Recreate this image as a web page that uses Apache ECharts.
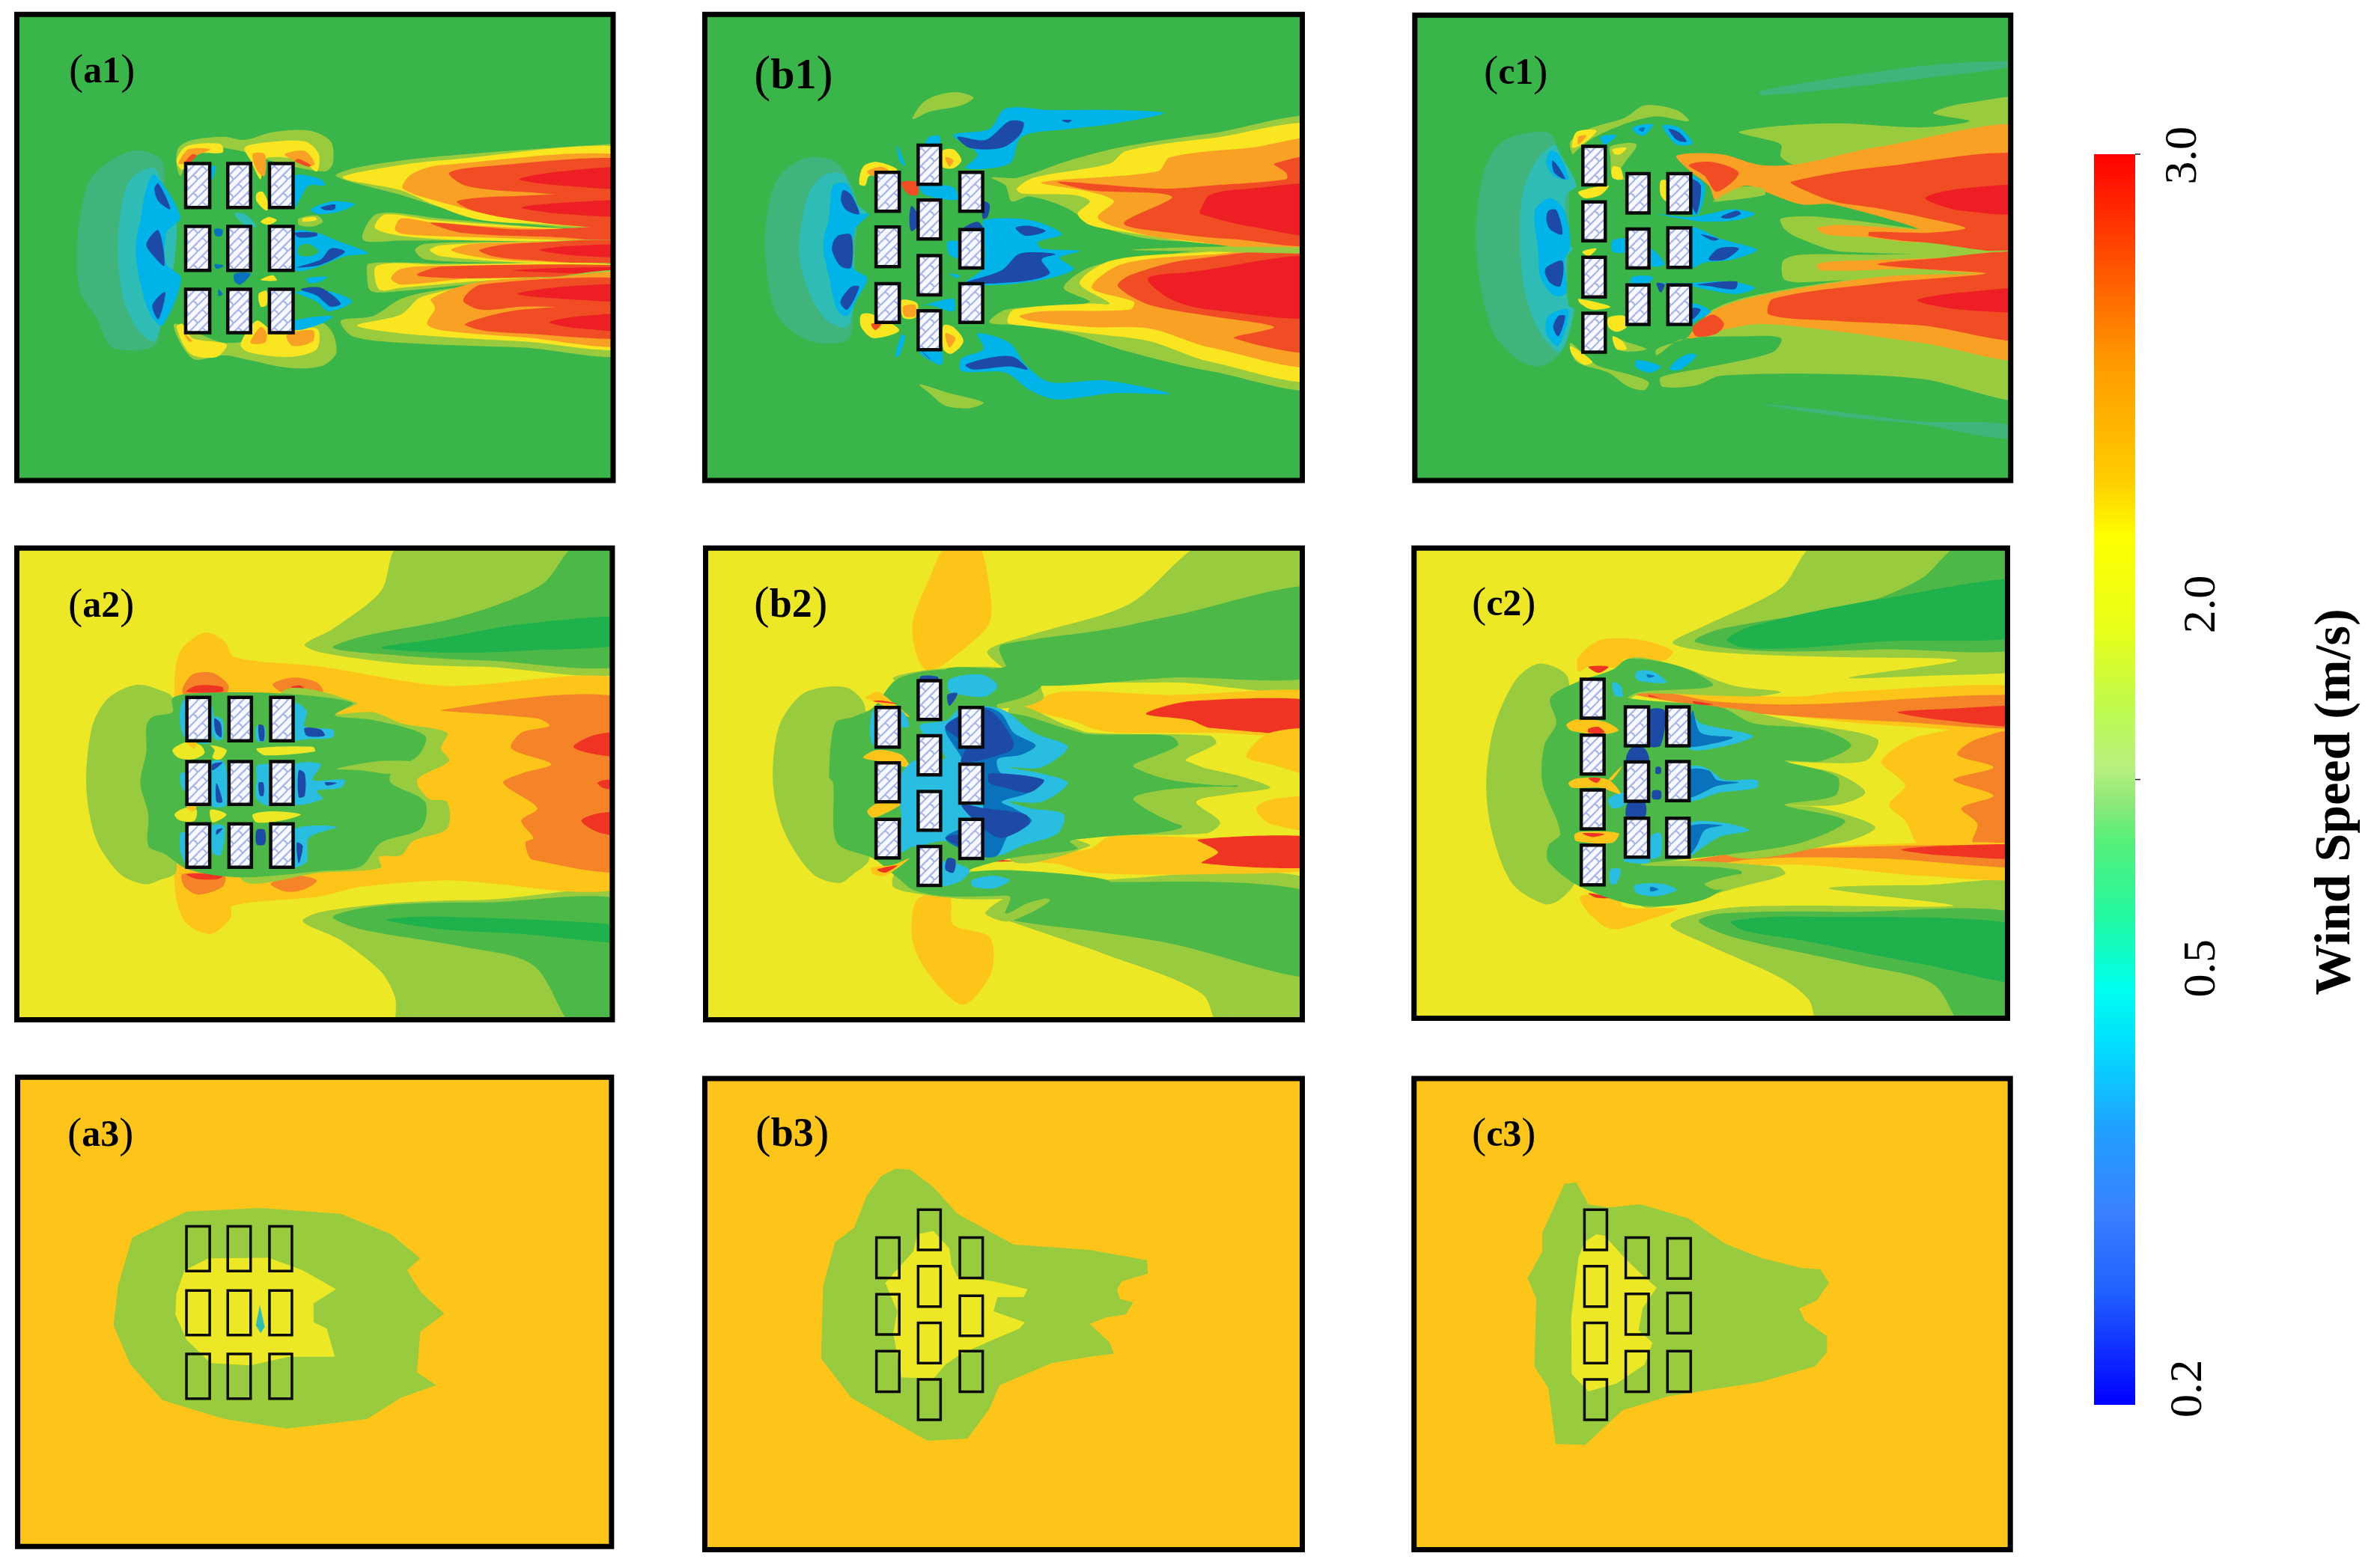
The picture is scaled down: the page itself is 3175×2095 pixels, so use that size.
<!DOCTYPE html>
<html lang="en">
<head>
<meta charset="UTF-8">
<title>Wind Speed</title>
<script src="https://cdn.jsdelivr.net/npm/echarts@6/dist/echarts.min.js"></script>
<style>
html,body{margin:0;padding:0;background:#fff}
#chart{width:3175px;height:2095px}
</style>
</head>
<body>
<div id="chart"></div>
<script>
// contour bands, outlines in panel units
const a1Regions = [
['S',[345,478,400,505,410,560,400,1000,385,1100,280,1105,240,1010,200,930,192,830,198,700,225,570,290,500]],
['T',[385,535,415,640,440,700,430,880,410,990,385,1085,345,1050,310,960,295,830,300,680,325,570]],
['C',[385,555,450,690,415,740,415,840,452,885,405,1035,375,1000,350,900,338,790,350,700,365,600]],
['D',[395,583,425,665,395,640,385,600]],['D',[395,732,410,845,380,810,365,775]],['D',[412,928,395,1015,380,970]],
['L',[440,520,445,470,480,445,560,435,610,445,680,420,770,415,825,450,830,520,810,545,700,520,600,480,520,470,470,500,450,560]],
['Y',[440,510,465,465,550,458,555,485,490,490,455,540]],['Y',[610,470,650,455,760,450,795,490,790,545,750,510,660,505,650,570,625,510]],
['A',[445,520,470,475,525,475,490,495,460,520]],['A',[630,490,660,490,660,560,640,540]],['A',[710,490,760,480,785,520,770,530,725,505]],['E',[745,505,775,525,770,530,735,512]],['E',[462,515,480,490,490,495,470,520]],
['L',[435,1030,480,1140,560,1130,620,1145,720,1170,800,1165,838,1125,830,1060,800,1025,700,1060,560,1090]],
['Y',[440,1040,475,1125,540,1135,565,1095,480,1075,455,1030]],['Y',[600,1095,640,1020,680,1050,790,1045,790,1110,720,1135,620,1120]],
['A',[625,1090,650,1040,665,1060,660,1090]],['A',[715,1065,780,1050,780,1085,730,1100]],['A',[460,1060,470,1085,480,1085]],
['C',[735,560,800,570,810,590,770,590,745,640,735,660]],['C',[775,665,830,640,885,650,840,675,790,680]],['D',[800,660,835,650,835,665,810,668]],
['C',[735,735,790,740,840,765,918,805,860,815,790,850,735,860,735,800]],['G',[745,785,770,775,795,800,770,815,745,810]],['D',[735,740,790,740,790,750,745,755]],['D',[740,850,800,825,825,790,860,800,830,825,790,845]],
['C',[735,930,790,920,845,935,878,960,820,990,790,960,745,935]],['C',[735,1020,830,1005,800,1030,735,1050]],['D',[750,920,800,915,850,965,825,975,790,940]],
['L',[745,695,790,685,805,705,780,720,745,715]],['Y',[755,695,785,690,790,700,755,705]],
['Y',[655,610,670,650,665,670,640,640,640,615]],['Y',[650,705,670,690,690,700,670,715]],['Y',[650,890,680,875,690,892]],['Y',[645,935,665,925,665,970,650,975]],
['C',[765,885,815,880,800,895,770,900]],['M',[585,870,625,870,600,905,585,895]],['M',[535,728,555,730,552,750,538,750]],['M',[535,840,558,845,540,855]],['M',[545,920,555,935,545,942]],['T',[585,680,610,680,640,720,610,715]],['C',[523,530,538,530,530,570,523,570]],
// wake, top to bottom
['L',[838,560,900,530,1100,497,1522,458,1600,458,1600,705,1250,705,1100,660,1000,620]],
['Y',[855,565,950,535,1100,510,1600,478,1600,700,1300,710,1180,695,1080,650,1000,605]],
['A',[1005,600,1025,555,1100,525,1600,505,1600,720,1430,715,1250,690,1120,650]],
['E',[1120,550,1200,530,1600,510,1600,620,1300,610,1160,590]],['E',[1140,640,1250,625,1600,625,1600,720,1430,718,1250,690,1170,665]],
['R',[1295,570,1400,545,1600,535,1600,595,1400,590]],['R',[1300,660,1400,645,1600,640,1600,685,1400,680]],
['L',[905,762,940,680,1100,695,1250,712,1600,750,1600,770,1200,765,1000,765]],
['Y',[935,725,960,682,1080,700,1300,720,1600,740,1600,765,1200,765,1000,750]],
['A',[985,730,1000,695,1080,708,1300,725,1600,740,1600,765,1200,755,1010,745]],
['E',[1075,708,1300,730,1600,722,1600,770,1400,755,1150,740]],
['L',[1035,795,1060,775,1300,768,1600,770,1600,830,1300,835,1060,825]],
['Y',[1072,795,1100,780,1300,770,1600,772,1600,830,1320,835,1100,815]],
['A',[1125,795,1180,775,1450,770,1600,770,1600,830,1300,830,1180,815]],
['E',[1195,795,1280,775,1600,770,1600,835,1300,825,1230,815]],
['R',[1345,795,1430,782,1600,780,1600,815,1430,812]],
['L',[915,870,920,838,1100,838,1600,840,1600,870,1380,880,1200,900,1000,925,925,925]],
['Y',[940,845,1100,842,1500,838,1600,870,1380,878,1180,895,1000,915,945,920]],
['A',[975,885,1000,855,1100,845,1600,845,1600,860,1370,880,1180,885,1000,905]],
['E',[1040,875,1100,848,1600,845,1600,870,1370,880,1150,885]],
['R',[1280,860,1400,852,1600,852,1600,868,1400,868]],
['L',[850,1020,930,1005,1000,950,1080,925,1350,885,1600,875,1600,1120,1300,1105,1000,1090,880,1070]],
['Y',[890,1035,1000,1000,1050,945,1200,905,1380,885,1600,878,1600,1098,1300,1085,1000,1060]],
['A',[1065,1030,1085,980,1075,950,1180,900,1370,882,1600,880,1600,1090,1300,1072,1100,1050]],
['E',[1155,955,1200,905,1600,890,1600,970,1300,975,1200,985]],['E',[1160,1030,1300,985,1600,980,1600,1070,1300,1060,1200,1050]],
['R',[1290,935,1400,912,1600,908,1600,955,1400,950]],['R',[1370,1025,1450,1005,1600,1002,1600,1050,1450,1045]]
];
const b1Regions = [
['S',[290,503,360,510,395,560,420,650,415,800,410,950,400,1075,330,1092,265,1060,215,990,192,830,195,680,225,560]],
['T',[340,555,385,555,420,650,445,680,415,720,410,800,415,860,445,885,415,960,395,1040,345,1020,300,930,275,810,285,680,305,600]],
['C',[360,590,395,585,430,680,450,680,415,730,410,850,445,885,420,950,395,1005,370,985,350,880,335,780,350,690]],
['D',[385,605,405,620,425,680,395,670,380,640]],['D',[375,748,405,748,405,850,380,848,358,800,360,770]],['D',[405,912,425,912,395,985,378,960]],
['C',[790,345,900,350,1060,350,1185,360,1050,395,950,410,830,435,800,520,690,535,720,490,660,430,750,410]],
['D',[670,435,740,445,800,385,835,390,825,430,780,470,700,470]],['D',[930,382,955,382,945,390]],
['C',[720,1060,800,1090,840,1160,900,1215,1040,1210,1200,1252,1060,1250,915,1270,850,1240,790,1185,680,1180,680,1140,735,1110]],
['D',[690,1160,760,1135,810,1135,845,1175,800,1165,710,1175]],
['L',[558,378,590,320,660,293,710,310,680,335,600,355]],['L',[575,1222,650,1250,735,1280,700,1298,640,1290,600,1250]],
['C',[735,700,820,695,880,710,930,745,870,770,880,790,975,798,925,820,960,855,900,885,790,905,690,900,735,850,735,730]],
['D',[685,725,720,705,735,730,700,735]],['D',[815,725,850,718,890,735,840,750]],['D',[820,810,850,802,915,808,880,825,900,870,830,895,690,900,780,860]],
['L',[750,1025,790,985,890,975,1000,960,935,915,1000,850,1150,815,1600,795,1600,1225,1300,1180,1100,1120,950,1060,830,1035]],
['Y',[795,1025,810,985,1000,965,1050,965,975,900,1050,830,1250,805,1600,800,1600,1200,1300,1150,1150,1085,1000,1060,830,1035]],
['A',[825,1005,880,990,1100,985,1110,960,1005,915,1080,840,1300,810,1600,805,1600,1155,1300,1105,1150,1045,1000,1040,850,1020]],
['E',[1070,910,1100,875,1250,825,1600,815,1600,1110,1360,1075,1460,1040,1300,1005,1150,970]],
['R',[1145,885,1250,865,1600,820,1600,1000,1300,985,1200,950]],
['L',[755,565,820,565,950,510,1070,470,1300,425,1600,385,1600,780,1300,770,1150,760,1010,715,940,660,850,625,805,640,790,590]],
['Y',[818,600,860,565,1050,520,1090,480,1300,440,1600,408,1600,780,1300,775,1100,740,1000,715,970,680,1000,640,960,620,830,615]],
['A',[880,580,1170,545,1200,500,1400,470,1600,450,1600,775,1200,760,1060,720,1020,690,1060,640,1000,610]],
['E',[1460,520,1600,505,1600,765,1350,760,1200,740,1085,710,1205,625,1000,605,920,578,1180,600,1300,590,1490,570,1490,550]],
['R',[1275,670,1300,620,1400,600,1600,595,1600,745,1400,720,1275,680]],
['L',[1100,795,1300,785,1600,790,1600,805,1300,800]],
['Y',[425,585,435,530,470,515,520,540,450,560,440,590]],['A',[445,545,480,530,500,545,460,560]],['E',[530,580,570,580,570,620,545,615]],
['Y',[632,480,660,475,680,510,660,535,632,530]],['A',[640,500,660,510,650,530]],
['Y',[430,1000,460,1000,525,1050,460,1075,430,1040]],['E',[455,1030,480,1030,465,1050]],
['Y',[530,955,570,965,565,1010,535,1010]],['A',[535,975,565,970,565,1005,538,1005]],
['Y',[635,1035,660,1040,685,1085,655,1125,635,1110]],['A',[640,1060,665,1075,650,1105]],
['C',[520,462,530,490,540,530,525,510]],['C',[515,1135,530,1065,540,1070,525,1130]],['C',[600,435,625,432,625,458,590,460]],
['C',[575,1120,630,1120,630,1160,600,1145]],['D',[580,1115,605,1145,590,1130]],['D',[555,655,570,680,570,720,555,735,550,700]],
['C',[575,590,660,595,670,635,590,620]],['C',[645,770,675,770,675,820,650,810]],['C',[650,870,675,875,670,885]],['C',[575,975,660,950,660,990,600,970]],
['D',[733,640,750,650,745,690,733,695]]
];
const c1Regions = [
['S',[895,290,1100,245,1300,210,1515,195,1515,215,1300,250,1100,280,905,303]],['S',[905,1285,1100,1310,1300,1340,1515,1350,1515,1395,1300,1350,1100,1325]],
['S',[250,455,320,422,375,425,395,480,420,570,420,780,415,960,400,1120,350,1165,290,1140,230,1050,195,860,190,700,210,540]],
['T',[385,460,400,490,440,590,415,620,415,770,430,790,415,820,420,970,435,985,400,1120,355,1070,315,950,300,800,305,620,340,510]],
['C',[375,480,395,490,420,570,385,560,365,520]],['C',[340,660,375,630,410,670,425,780,410,830,415,930,385,940,350,880,345,800,335,700]],['C',[370,1005,420,985,395,1100,365,1060]],
['D',[380,510,395,530,412,570,385,550]],['D',[370,670,390,668,405,745,375,730,365,700]],['D',[365,850,405,830,400,910,375,900,362,870]],['D',[395,1005,412,1005,395,1070,382,1040]],
['L',[845,420,950,400,1100,392,1300,405,1420,385,1330,360,1400,330,1600,318,1600,520,1000,530,950,500,950,460,900,440]],
['L',[780,985,900,935,1200,875,1600,820,1600,1262,1300,1205,1100,1190,800,1195,740,1225,655,1230,650,1200,760,1170,930,1120,950,1075,850,1070,700,1080,640,1130,640,1110,720,1070]],
['A',[720,1075,780,990,900,940,1200,880,1460,870,1600,860,1600,1138,1300,1090,1100,1055,900,1030,800,1050]],
['A',[690,495,800,490,900,525,1000,520,1200,465,1600,412,1600,790,1400,790,1170,745,1050,720,1300,735,1080,650,1000,650,910,610,860,590,790,640,770,590,720,540]],
['L',[780,640,850,595,905,600,910,620,800,640]],
['L',[950,695,1050,690,1300,730,1600,790,1600,805,1100,800,1000,760,960,730]],
['A',[1040,725,1100,715,1300,730,1410,730,1300,770,1170,755,1060,745]],
['E',[975,578,1200,530,1600,505,1600,785,1300,770,1170,750,1170,738,1320,740,1410,725,1300,690,1180,660,1080,640,1000,600]],
['R',[1310,630,1400,600,1600,595,1600,675,1400,670]],
['L',[955,830,1000,810,1200,810,1600,795,1600,810,1300,860,1200,880,1050,895,960,890]],
['A',[1040,840,1100,830,1600,815,1600,830,1460,870,1300,855,1050,860]],
['E',[1190,840,1300,825,1600,820,1600,1075,1300,1035,1080,1020,920,1000,930,950,1200,900,1460,870,1300,855]],
['R',[1290,955,1400,930,1600,920,1600,985,1400,985]],
['E',[720,525,780,515,845,550,790,610,760,560]],['E',[730,1040,780,1000,808,1030,790,1060,740,1070]],
['L',[425,450,470,410,560,375,610,335,690,350,720,385,640,370,570,390,480,440,440,480,430,490]],
['Y',[440,420,490,415,465,450,430,470]],['A',[445,435,465,430,445,460]],
['C',[580,405,630,395,610,430,590,425]],['M',[595,410,610,405,605,420]],['C',[655,400,695,405,730,455,690,460]],['D',[670,410,695,420,715,450,690,445]],['C',[500,435,540,430,510,460]],
['L',[525,465,590,460,550,540,560,570,530,560,525,500]],['Y',[530,475,565,470,550,490,535,490]],['Y',[530,530,550,535,555,570,530,565]],
['Y',[650,575,665,575,665,640,650,620]],['Y',[445,610,520,590,500,620,460,630]],['Y',[455,800,490,790,470,815]],['Y',[445,950,525,975,480,985,450,965]],
['Y',[520,1010,560,1005,565,1040,540,1055,520,1040]],['L',[530,1070,560,1085,615,1110,550,1115]],['Y',[530,1070,555,1085,565,1110,540,1110]],
['L',[425,1090,490,1160,570,1190,620,1215,610,1240,570,1230,520,1185,440,1150]],['Y',[425,1100,480,1150,460,1160,430,1130]],
['C',[590,1145,650,1165,625,1185,590,1170]],['C',[720,1125,740,1130,700,1175,672,1175,690,1145]],
['C',[725,560,760,590,745,680,725,680]],['D',[725,570,750,590,740,680,725,640]],
['C',[640,680,720,690,770,680,830,665,885,680,840,700,760,705,700,695]],['D',[800,690,840,670,850,680,820,695]],
['C',[725,725,800,760,830,770,890,795,830,825,760,835,725,850]],['D',[750,745,795,760,780,765]],['D',[795,790,845,790,810,825,770,825]],
['C',[530,765,565,760,565,800,530,800]],['C',[625,790,660,840,625,845]],['C',[580,880,630,880,620,900,575,900]],
['C',[640,900,720,900,820,895,885,915,840,935,760,920,725,910]],['D',[640,900,660,905,650,930]],['D',[740,905,840,895,835,920,770,910]],
['C',[725,965,775,990,740,1020,725,1030]],['D',[730,980,750,985,730,1015]]
];
const a2Regions = [
['L',[1000,40,1600,40,1600,430,1200,430,1000,420,800,385,760,360,830,310,950,190]],
['K',[1440,40,1600,40,1600,405,1200,410,950,390,830,370,900,335,1150,270,1350,170]],
['H',[950,370,1100,340,1300,295,1600,275,1600,350,1300,380,1100,385]],
['L',[1000,1600,1600,1600,1600,1170,1200,1172,1000,1180,800,1210,755,1240,850,1300,950,1400,985,1480]],
['K',[1445,1600,1600,1600,1600,1195,1200,1180,950,1190,830,1225,900,1265,1150,1320,1330,1380]],
['H',[965,1235,1100,1225,1600,1260,1600,1310,1300,1280,1100,1265]],
['O',[435,480,450,380,510,322,560,350,585,400,800,430,1100,490,1600,500,1600,1105,1100,1110,900,1130,800,1160,580,1190,575,1230,525,1280,460,1240,435,1120]],
['P',[1100,568,1600,552,1600,1058,1330,1045,1310,990,1330,975,1300,920,1340,880,1255,800,1300,770,1375,740,1275,690,1300,640,1370,618,1340,595]],
['Q',[1430,685,1490,645,1600,645,1600,715,1490,710]],['Q',[1490,800,1510,790,1600,790,1600,820,1510,818]],['Q',[1450,920,1500,895,1600,895,1600,965,1500,960]],
['P',[455,500,480,455,530,450,570,490,560,520,460,520]],['Q',[465,510,490,490,555,495,555,510]],
['P',[680,485,730,465,790,480,805,510,750,520,700,510]],['Q',[725,495,750,490,760,505]],
['P',[455,1090,560,1095,555,1130,495,1155,460,1130]],['Q',[465,1090,558,1092,545,1105,490,1105]],['P',[675,1120,740,1095,790,1110,755,1140,710,1145]],
['L',[215,810,230,620,270,530,340,488,400,505,430,530,440,1080,395,1110,360,1122,300,1090,240,980]],
['L',[700,515,890,545,835,580,930,575,1000,610,1115,640,1100,690,1120,730,1040,790,1070,850,1115,860,1115,945,1030,985,1000,1030,945,1035,950,1070,800,1085,600,1100]],
['K',[365,620,380,590,430,575,430,530,480,515,700,515,880,545,835,585,930,600,1060,650,1045,710,975,770,975,800,1060,860,1050,945,950,990,900,1065,800,1080,600,1100,470,1075,410,1025,370,1000,370,900,350,800,365,700]],
['L',[840,755,950,730,1040,735,975,770,900,760]],
['B',[450,560,465,530,525,540,525,670,465,660,450,620]],['B',[535,590,555,600,555,660,535,660]],['B',[640,620,660,620,660,665,640,665]],['B',[730,545,765,570,760,620,830,630,830,655,770,660,730,660]],
['D',[760,625,800,630,810,650,765,650]],['D',[535,595,550,610,552,655,538,640]],['D',[645,615,658,620,658,665,648,665]],
['B',[525,735,560,735,565,870,525,870]],['B',[640,745,675,745,675,870,640,850,640,780]],['B',[730,745,800,740,780,790,860,790,850,815,790,825,805,850,730,865]],
['D',[745,760,760,770,760,840,745,845]],['D',[810,798,840,800,815,808]],['D',[530,740,555,735,530,760]],['D',[540,800,555,860,540,860]],['D',[645,800,657,800,657,840,648,840]],
['B',[530,935,560,940,550,1030,530,1020]],['D',[540,950,555,945,540,965]],['D',[640,950,660,950,660,995,640,995]],
['B',[730,950,840,940,770,975,765,1050,730,1065]],['D',[740,990,755,1000,745,1055]],['B',[450,960,465,960,465,1060,450,1020]],['B',[450,770,465,770,465,830,452,810]],
['W',[430,695,465,670,500,680,510,705,480,725,445,720]],['W',[525,680,565,695,550,725,530,720,535,695]],['W',[640,690,780,685,785,700,660,712]],
['W',[435,900,460,880,490,885,485,920,450,920]],['W',[525,885,565,900,530,925]],['W',[630,900,680,890,750,900,700,920,640,925]],['O',[465,672,490,672,485,690]],['O',[465,875,490,875,480,892]]
];
const b2Regions = [
['O',[645,40,720,40,750,180,750,290,690,370,600,445,570,400,558,290,600,150]],
['O',[570,1170,650,1160,660,1250,750,1290,755,1400,685,1505,600,1410,558,1300]],
['L',[1295,30,1600,30,1600,480,1200,480,880,490,885,525,790,440,745,380,850,330,1100,230]],
['K',[1600,180,1600,445,1200,465,860,490,800,440,775,380,780,360,1050,310,1200,270]],
['L',[1600,1600,1335,1600,1280,1470,1050,1350,800,1240,740,1215,800,1160,1000,1110,1600,1130]],
['K',[785,1220,830,1160,1050,1115,1600,1165,1600,1415,1200,1310,1000,1270,820,1240]],
['O',[840,555,930,510,1200,520,1600,515,1600,640,1300,640,1070,640,1015,630,950,600,840,565]],
['Q',[1140,580,1250,540,1600,545,1600,637,1300,625,1250,600]],['Q',[725,540,840,558,790,552]],
['O',[1390,715,1450,640,1600,640,1600,780,1450,740]],['O',[1415,880,1460,850,1600,850,1600,950,1450,930]],
['O',[810,1040,1000,1010,1050,970,1300,975,1600,975,1600,1065,1300,1090,1000,1085,930,1060]],
['Q',[1270,980,1600,978,1600,1062,1280,1055,1320,1020]],['Q',[720,1040,810,1048,760,1050]],
['L',[210,800,225,620,280,520,340,495,400,500,440,560,450,1040,410,1090,375,1118,310,1090,240,960]],
['L',[510,470,600,440,740,430,795,440,870,500,885,530,840,555,700,560]],
['L',[515,1090,700,1080,850,1100,830,1155,770,1185,740,1215,800,1240,900,1170,700,1170,560,1150,510,1130]],
['L',[950,620,1000,640,1300,650,1315,675,1240,730,1380,780,1450,815,1350,835,1265,860,1325,925,1290,960,1000,965,945,968,1000,1000,800,1040,800,560]],
['K',[365,610,410,590,460,560,520,470,640,440,780,470,770,560,850,590,950,630,1000,645,1200,650,1220,680,1110,750,1370,810,1110,850,1230,940,1000,975,950,985,970,1010,800,1040,690,1085,780,1110,830,1150,640,1160,560,1140,520,1100,460,1040,370,990,360,800,350,780]],
['K',[640,440,790,430,780,370,870,370,880,490,800,540,700,550]],
['K',[640,1155,800,1160,790,1215,850,1180,1050,1115,900,1085,700,1085]],
['L',[1110,745,1180,715,1240,730,1370,805,1200,790]],['L',[1110,850,1200,820,1370,815,1265,860,1320,920,1230,935]],
['O',[440,530,470,510,510,545,550,590,470,545,450,535]],['O',[435,720,470,695,530,710,550,750,500,735]],['O',[445,890,470,865,530,865,500,890,460,910]],['O',[455,1070,510,1060,550,1040,490,1095,460,1090]],
['Q',[460,540,520,548,480,538]],['Q',[470,1075,520,1062,490,1085]],
['B',[575,620,645,600,680,560,780,565,860,640,945,685,880,750,800,750,880,770,945,800,880,860,800,860,850,880,935,900,920,960,830,1000,770,1030,640,985,540,1000,530,900,525,790,560,730,640,720]],
['M',[735,560,780,580,810,640,865,680,830,710,770,725,780,770,885,790,850,830,780,860,810,880,855,920,800,960,770,1030,735,1035,640,975,735,900,680,720,640,620]],
['D',[735,565,770,590,810,670,800,700,680,735,690,680,640,620]],['D',[750,770,885,790,850,830,790,815,750,800]],['D',[680,870,735,880,840,900,850,930,780,975,735,945]],['D',[640,975,680,965,680,1000]],
['B',[650,470,730,455,770,490,740,525,680,520,650,510]],['D',[580,460,620,462,622,475,575,475]],['D',[645,520,670,515,650,555]],
['B',[460,570,530,570,550,620,525,625,460,680]],['B',[630,1050,700,1075,680,1110,630,1125]],['B',[705,1110,760,1095,800,1110,760,1135,710,1130]],['D',[645,1040,665,1045,660,1085,640,1075]],
['B',[525,950,560,930,555,1000,525,1020]]
];
const c2Regions = [
['L',[1040,40,1600,40,1600,380,1480,385,1600,400,1600,440,1300,460,1120,465,1390,410,1100,400,800,385,680,355,760,300,950,180]],
['K',[1400,40,1600,40,1600,350,1200,375,900,380,735,350,800,310,1150,230,1300,150]],
['H',[815,345,880,300,1200,215,1600,155,1600,320,1200,350,1000,370,860,370]],
['L',[1055,1600,1600,1600,1600,1140,1300,1125,1070,1135,1380,1190,1000,1190,800,1200,675,1250,760,1310,950,1420,1020,1490]],
['K',[1420,1600,1600,1600,1600,1240,1100,1210,800,1215,745,1240,830,1290,1150,1380,1330,1440]],
['H',[825,1240,1000,1225,1600,1265,1600,1435,1300,1375,1000,1300,860,1270]],
['O',[1200,730,1300,650,1600,625,1600,990,1300,1000,1260,920,1220,870,1260,810,1240,780]],
['P',[1390,710,1440,660,1600,630,1600,1000,1430,990,1440,930,1400,880,1480,840,1380,790,1480,750]],
['O',[600,515,800,520,1000,525,1100,510,1600,500,1600,625,1200,615,1000,590,800,560]],
['P',[575,515,650,510,780,540,1000,550,1600,525,1600,620,1240,605,900,580,700,545]],
['Q',[1240,575,1350,565,1600,560,1600,620,1350,600]],['Q',[620,520,650,530,620,525]],['Q',[730,540,780,550,740,552]],
['O',[820,1030,1000,1005,1600,1000,1600,1100,1300,1095,1000,1060,700,1070]],
['P',[585,1070,700,1050,900,1015,1600,1003,1600,1068,1200,1040,900,1040,700,1075,600,1085]],
['Q',[1250,1012,1350,1000,1600,1000,1600,1040,1350,1030]],['Q',[610,1068,650,1062,650,1075]],['Q',[725,1055,755,1050,750,1068]],
['L',[215,800,235,620,290,470,350,420,420,470,440,1100,400,1170,360,1185,280,1120,230,960]],
['O',[445,445,445,400,500,345,600,345,680,380,660,410,560,405,550,435,480,425]],['Q',[470,430,520,430,495,450]],
['O',[450,1160,540,1160,560,1195,690,1200,620,1235,530,1265,475,1220]],['Q',[470,1150,530,1165,490,1165]],
['L',[570,405,700,430,830,490,950,510,880,525,600,515,570,530]],
['L',[800,560,1000,610,1190,660,1160,730,960,735,1090,770,1160,830,1090,870,950,870,1050,880,1185,940,1100,990,800,1020,650,600]],
['L',[590,1060,940,1065,960,1090,850,1130,700,1180,600,1190]],
['K',[375,530,440,480,530,440,570,405,700,430,780,490,600,510,570,530,800,560,880,610,1050,630,1125,680,1050,730,960,730,1090,780,1085,840,960,870,1110,920,1000,990,800,1030,600,1060,850,1080,760,1170,600,1190,450,1130,370,1050,370,1000,400,960,355,800,360,680,390,610]],
['L',[760,1120,850,1090,880,1110,790,1140]],
['B',[590,445,630,445,665,480,620,480,590,470]],['M',[615,455,635,460,620,465]],['B',[585,1125,650,1120,690,1140,640,1160,590,1150]],['M',[625,1130,645,1138,625,1145]],
['B',[530,480,550,490,555,525,535,520]],
['B',[720,570,750,610,880,650,820,680,720,690]],['M',[730,570,750,640,830,655,780,675,720,680]],['D',[620,570,660,570,650,680,620,680]],
['B',[720,750,760,750,810,790,890,790,890,815,800,830,720,855]],['M',[720,760,770,760,790,790,845,798,790,810,720,845]],
['B',[720,930,800,925,870,950,800,970,760,1000,720,1030]],['M',[720,940,805,935,760,950,740,1000,720,1030]],
['D',[575,690,610,690,620,730,565,730]],['D',[570,860,610,860,610,910,565,910]],['D',[638,750,650,750,650,770,638,770]],['D',[630,825,650,825,650,850,630,850]],
['B',[520,850,560,830,560,870,530,880]],['B',[625,970,650,960,650,1030,625,1040]],['B',[560,1035,620,1035,620,1055,560,1050]],['B',[525,1075,550,1075,540,1120,525,1120]],
['O',[415,615,440,598,510,605,545,632,510,645,430,635]],['Q',[470,628,495,622,510,640,470,640]],
['O',[420,800,445,785,520,790,550,835,500,815,430,815]],['O',[520,790,555,745,530,790]],['Q',[470,785,500,785,490,800]],
['O',[435,965,450,955,545,960,530,990,440,985]],['Q',[455,960,510,962,480,972]]
];
const a3Regions = [
['L',[330,555,465,473,650,462,850,480,975,545,1048,622,1015,660,1050,730,1108,798,1048,855,1040,985,1088,1025,1000,1065,915,1133,715,1163,560,1133,405,1073,325,960,283,835,295,705]],
['W',[440,735,460,660,520,622,670,620,755,660,838,720,782,765,782,825,815,845,835,935,720,935,625,962,525,955,465,880,437,800]],
['T',[648,770,660,840,650,860,638,835]]
];
const b3Regions = [
['L',[515,337,552,340,610,395,670,480,810,578,1000,595,1143,628,1145,670,1080,695,1068,720,1075,750,1108,762,1090,800,1040,810,1000,830,1050,890,1060,925,1000,935,905,955,775,1025,750,1100,695,1195,595,1202,405,1065,330,940,335,710,365,570,412,525,445,420,480,360]],
['W',[570,545,610,535,650,590,655,640,670,680,760,695,845,720,835,745,770,745,760,790,838,825,825,845,760,880,680,925,640,960,610,1005,530,1000,510,860,520,790,490,700,525,650,560,600]]
];
const c3Regions = [
['L',[410,385,440,380,470,450,520,460,600,450,720,495,810,575,900,620,1000,652,1048,657,1070,700,1040,755,995,782,1010,820,1065,870,1065,920,1035,965,900,1015,670,1060,555,1105,462,1215,388,1212,370,1035,335,965,340,750,318,685,355,600,355,540]],
['W',[490,545,510,550,560,620,600,670,640,715,605,780,595,850,630,890,610,960,540,1020,470,1045,428,990,427,810,445,620,460,570]]
];

// building footprints
const a1Buildings = [[463,520,523,660],[568,520,625,660],[672,520,731,660],[463,720,523,860],[568,720,625,860],[672,720,731,860],[463,920,523,1058],[568,920,625,1058],[672,920,731,1058]];
const b1Buildings = [[467,548,525,672],[467,722,525,848],[467,902,525,1025],[572,462,628,586],[572,636,628,760],[572,813,628,938],[572,988,628,1112],[676,548,733,672],[676,730,733,852],[676,902,733,1025]];
const c1Buildings = [[456,465,512,588],[456,642,512,766],[456,818,512,944],[456,996,512,1120],[566,552,621,677],[566,728,621,852],[566,906,621,1032],[668,552,725,677],[668,725,725,850],[668,906,725,1032]];
const a2Buildings = [[466,528,523,666],[571,528,627,666],[675,528,731,666],[466,732,523,868],[571,732,627,868],[675,732,731,868],[466,930,523,1068],[571,930,627,1068],[675,930,731,1068]];
const b2Buildings = [[467,560,525,686],[467,736,525,860],[467,916,525,1038],[572,475,628,598],[572,650,628,774],[572,827,628,950],[572,1002,628,1126],[676,560,733,686],[676,740,733,864],[676,916,733,1040]];
const c2Buildings = [[452,470,509,594],[452,648,509,772],[452,822,509,946],[452,998,509,1124],[562,558,620,682],[562,733,620,858],[562,912,620,1036],[665,558,721,682],[665,732,721,856],[665,912,721,1036]];
const a3Buildings = [[465,520,523,662],[568,520,625,662],[672,520,728,662],[465,724,523,866],[568,724,625,866],[672,724,728,866],[465,926,523,1068],[568,926,625,1068],[672,926,728,1068]];
const b3Buildings = [[468,556,525,684],[468,736,525,864],[468,917,525,1046],[572,467,628,595],[572,647,628,775],[572,827,628,955],[572,1007,628,1135],[676,556,733,684],[676,741,733,868],[676,917,733,1046]];
const c3Buildings = [[460,467,516,595],[460,647,516,775],[460,827,516,955],[460,1007,516,1135],[563,556,620,684],[563,735,620,864],[563,917,620,1046],[667,558,725,686],[667,732,725,860],[667,917,725,1046]];

const panelNames = ['a1','b1','c1','a2','b2','c2','a3','b3','c3'];
const panelRegions = [a1Regions,b1Regions,c1Regions,a2Regions,b2Regions,c2Regions,a3Regions,b3Regions,c3Regions];
const panelBuildings = [a1Buildings,b1Buildings,c1Buildings,a2Buildings,b2Buildings,c2Buildings,a3Buildings,b3Buildings,c3Buildings];
const panelBands = ['G','G','G','W','W','W','O','O','O'];

// colour bar
const barTickLabels = ['3.0','2.0','0.5','0.2'];
const barTickPos = [0.1,36,65.1,98.7];
const barMarks = [0,50];
const barTitle = 'Wind Speed (m/s)';
const barStopPos = [0,0.166,0.26,0.306,0.38,0.446,0.49,0.52,0.55,0.61,0.667,0.71,0.78,0.845,0.91,1];
const barStopColor = ['#ff0000','#ff9a00','#ffcc00','#ffff00','#e8ff1a','#bdfa50','#b8f080','#8ae878','#55f07a','#22f8a0','#00ffee','#00e0ff','#20a0ff','#3a80ff','#2060ff','#0000ff'];

const bandColor = {D:'#1c4aa6',M:'#0a72bc',C:'#00b3e9',B:'#2abde2',T:'#2fbcb4',S:'#40b47a',G:'#39b54a',K:'#4bb848',H:'#1fb14c',L:'#98cb3d',Y:'#f9e620',W:'#ece826',O:'#fdc51a',A:'#f9a125',P:'#f58327',E:'#f04d24',R:'#ed1f25',Q:'#ef3424'};

// [crop x, crop y, box left, top, right, bottom] of each panel; scale from panel units to px
const panelBoxes = [
[0,0,42,46,1529,1528],[920,0,40,46,1530,1528],[1870,0,37,48,1523,1528],
[0,710,42,53,1527,1553],[920,710,42,53,1530,1553],[1870,710,35,53,1515,1548],
[0,1420,44,46,1525,1538],[920,1420,40,50,1530,1548],[1870,1420,35,50,1522,1548]
];
const unitX = 1.867, unitY = 2.38;
const labelSpots = [[92,97,50],[1007,103,58],[1982,99,50],[91,811,50],[1007,810,54],[1966,809,50],[90,1518,50],[1009,1517,54],[1966,1518,50]];

// white tiles with the blue cobble hatch of the buildings
function makeHatch() {
    const c = document.createElement('canvas');
    c.width = 24; c.height = 24;
    const g = c.getContext('2d');
    g.fillStyle = '#f7f8ff';
    g.fillRect(0, 0, 24, 24);
    g.strokeStyle = '#a3b2e8';
    g.lineWidth = 2;
    g.beginPath();
    g.moveTo(-2, 14); g.lineTo(14, -2);
    g.moveTo(-2, 26); g.lineTo(26, -2);
    g.moveTo(10, 26); g.lineTo(26, 10);
    g.moveTo(6, 6); g.quadraticCurveTo(11, 9, 12, 12);
    g.moveTo(18, 18); g.quadraticCurveTo(22, 20, 24, 24);
    g.stroke();
    return c;
}
const hatch = makeHatch();

const grids = [], xAxes = [], yAxes = [], series = [], labels = [];
panelBoxes.forEach((b, i) => {
    const left = b[0] + b[2] / unitX, top = b[1] + b[3] / unitY;
    const right = b[0] + b[4] / unitX, bottom = b[1] + b[5] / unitY;
    grids.push({left: left, top: top, width: right - left, height: bottom - top, show: true, backgroundColor: bandColor[panelBands[i]], borderWidth: 0});
    xAxes.push({gridIndex: i, type: 'value', min: b[2], max: b[4], show: false});
    yAxes.push({gridIndex: i, type: 'value', min: b[3], max: b[5], inverse: true, show: false});
    const regions = panelRegions[i];
    series.push({
        type: 'custom', xAxisIndex: i, yAxisIndex: i, clip: true, silent: true, z: 2,
        data: regions.map((r, k) => [b[2], b[3], k]),
        renderItem(params, api) {
            const r = regions[params.dataIndex];
            const pts = [];
            for (let k = 0; k < r[1].length; k += 2) pts.push(api.coord([r[1][k], r[1][k + 1]]));
            return {type: 'polygon', shape: {points: pts, smooth: i < 6 ? 0.3 : 0}, style: {fill: bandColor[r[0]]}};
        }
    });
    const blds = panelBuildings[i];
    series.push({
        type: 'custom', xAxisIndex: i, yAxisIndex: i, clip: false, silent: true, z: 3,
        data: blds.map((d) => d),
        renderItem(params, api) {
            const d = blds[params.dataIndex];
            const p0 = api.coord([d[0], d[1]]), p1 = api.coord([d[2], d[3]]);
            return {type: 'rect', shape: {x: p0[0], y: p0[1], width: p1[0] - p0[0], height: p1[1] - p0[1]},
                style: {fill: i < 6 ? {image: hatch, repeat: 'repeat'} : 'none', stroke: '#0a0a0a', lineWidth: i < 6 ? 4.5 : 3.5}};
        }
    });
    series.push({
        type: 'custom', xAxisIndex: i, yAxisIndex: i, clip: false, silent: true, z: 4,
        data: [[b[2], b[3]]],
        renderItem(params, api) {
            const p0 = api.coord([b[2], b[3]]), p1 = api.coord([b[4], b[5]]);
            return {type: 'rect', shape: {x: p0[0], y: p0[1], width: p1[0] - p0[0], height: p1[1] - p0[1]},
                style: {fill: 'none', stroke: '#000', lineWidth: 7}};
        }
    });
    const s = labelSpots[i];
    labels.push({
        type: 'text', x: s[0], y: s[1], z: 10,
        style: {
            text: '{p|(}{b|' + panelNames[i] + '}{p|)}', verticalAlign: 'middle',
            rich: {
                p: {fontFamily: 'Liberation Serif', fontSize: s[2] * 1.15, fill: '#000', fontWeight: 'normal'},
                b: {fontFamily: 'Liberation Serif', fontSize: s[2], fill: '#000', fontWeight: 'bold'}
            }
        }
    });
});

// colour bar grid, x counted in px from the bar's left edge, y in percent of its height
const n = panelBoxes.length;
grids.push({left: 2797, top: 206, width: 378, height: 1671});
xAxes.push({gridIndex: n, type: 'value', min: 0, max: 378, show: false});
yAxes.push({gridIndex: n, type: 'value', min: 0, max: 100, inverse: true, show: false});
const barGradient = new echarts.graphic.LinearGradient(0, 0, 0, 1, barStopPos.map((p, k) => ({offset: p, color: barStopColor[k]})));
series.push({
    type: 'custom', xAxisIndex: n, yAxisIndex: n, clip: false, silent: true,
    data: [[0, 0]],
    renderItem(params, api) {
        const p0 = api.coord([0, 0]), p1 = api.coord([55, 100]);
        return {type: 'rect', shape: {x: p0[0], y: p0[1], width: p1[0] - p0[0], height: p1[1] - p0[1]}, style: {fill: barGradient}};
    }
});
series.push({
    type: 'custom', xAxisIndex: n, yAxisIndex: n, clip: false, silent: true,
    data: barMarks.map((m) => [55, m]),
    renderItem(params, api) {
        const p = api.coord([55, api.value(1)]);
        return {type: 'line', shape: {x1: p[0], y1: p[1], x2: p[0] + 7, y2: p[1]}, style: {stroke: '#222', lineWidth: 1.5}};
    }
});
const barTickX = [120, 145, 145, 127];
series.push({
    type: 'custom', xAxisIndex: n, yAxisIndex: n, clip: false, silent: true,
    data: barTickLabels.map((t, k) => [barTickX[k], barTickPos[k]]),
    renderItem(params, api) {
        const p = api.coord([api.value(0), api.value(1)]);
        return {type: 'text', x: p[0], y: p[1], rotation: Math.PI / 2,
            style: {text: barTickLabels[params.dataIndex], font: '62px "Liberation Serif"', fill: '#000', align: 'center', verticalAlign: 'middle'}};
    }
});
series.push({
    type: 'custom', xAxisIndex: n, yAxisIndex: n, clip: false, silent: true,
    data: [[323, 51.8]],
    renderItem(params, api) {
        const p = api.coord([api.value(0), api.value(1)]);
        return {type: 'text', x: p[0], y: p[1], rotation: Math.PI / 2,
            style: {text: barTitle, font: 'bold 68px "Liberation Serif"', fill: '#000', align: 'center', verticalAlign: 'middle'}};
    }
});

const chart = echarts.init(document.getElementById('chart'), null, {renderer: 'canvas'});
chart.setOption({
    animation: false,
    backgroundColor: '#fff',
    grid: grids,
    xAxis: xAxes,
    yAxis: yAxes,
    series: series,
    graphic: labels
});
</script>
</body>
</html>
